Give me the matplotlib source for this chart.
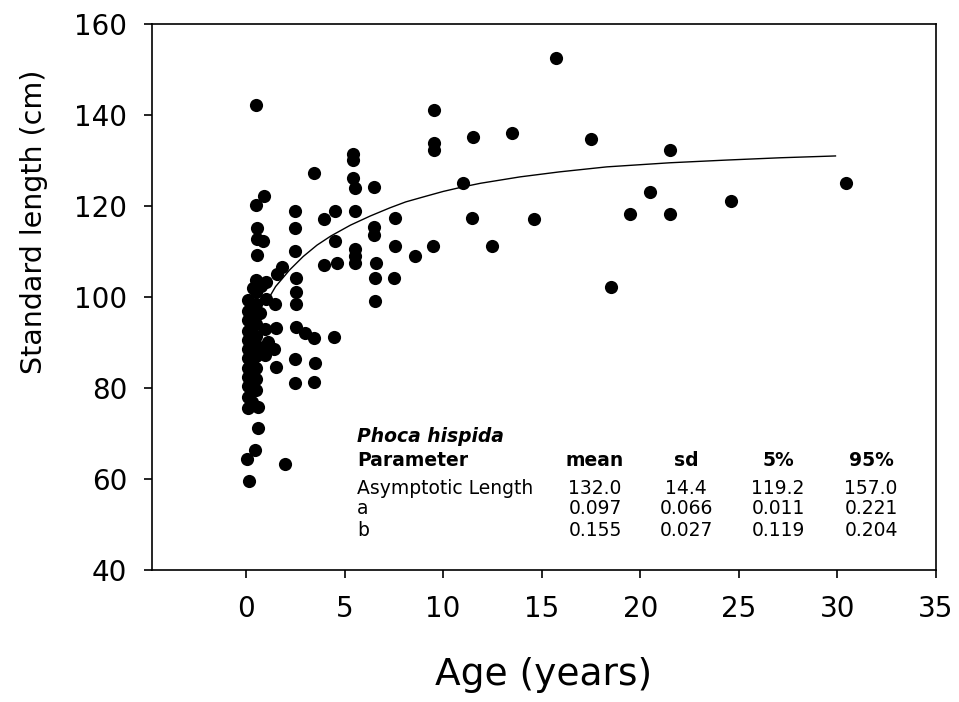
import matplotlib
matplotlib.use("Agg")
import matplotlib.pyplot as plt

# ---- data ----
age = [0.1, 0.05, 0.15, 0.1, 0.1, 0.1, 0.1, 0.1, 0.1, 0.1, 0.1, 0.1, 0.1, 0.1,
       0.3, 0.3, 0.3, 0.3, 0.3, 0.3, 0.35,
       0.5, 0.5, 0.55, 0.55, 0.55, 0.5, 0.5, 0.5, 0.5, 0.5, 0.5, 0.5, 0.5, 0.5, 0.5, 0.5, 0.6, 0.6, 0.45,
       0.9, 0.85, 0.75, 1.0, 1.0, 0.95, 1.1, 0.95, 0.85, 0.7,
       1.55, 1.8, 1.45, 1.5, 1.4, 1.5,
       2.0,
       2.5, 2.5, 2.5, 2.55, 2.55, 2.55, 2.55, 2.5, 2.5,
       3.0,
       3.45, 3.45, 3.5, 3.45,
       3.95, 3.95,
       4.5, 4.5, 4.6, 4.45,
       5.45, 5.45, 5.45, 5.55, 5.55, 5.55, 5.55, 5.55,
       6.5, 6.5, 6.5, 6.6, 6.55, 6.55,
       7.55, 7.55, 7.5,
       8.55,
       9.55, 9.55, 9.55, 9.5,
       11.0, 11.5, 11.45, 12.5, 13.5, 14.6, 15.7, 17.5, 18.5, 19.5, 20.5, 21.5, 21.5, 24.6, 30.45]
length = [99.3, 64.4, 59.6, 75.5, 78.0, 80.5, 82.5, 84.5, 86.5, 88.5, 90.5, 92.5, 95.0, 97.0,
          77.0, 81.5, 85.5, 89.5, 93.5, 97.5, 102.0,
          142.3, 120.3, 115.2, 112.8, 109.2, 103.7, 101.0, 98.5, 96.0, 94.0, 91.5, 89.5, 87.0, 84.5, 82.0, 79.5, 75.8, 71.3, 66.4,
          122.3, 112.2, 102.5, 103.3, 99.6, 93.0, 90.1, 87.2, 88.4, 96.5,
          105.0, 106.7, 98.5, 93.2, 88.6, 84.6,
          63.2,
          118.8, 115.1, 110.2, 104.2, 101.2, 98.5, 93.5, 86.3, 81.2,
          92.0,
          127.3, 90.9, 85.4, 81.4,
          117.2, 107.1,
          119.0, 112.4, 107.4, 91.3,
          131.5, 130.1, 126.2, 124.0, 119.0, 110.5, 109.0, 107.4,
          124.1, 115.4, 113.6, 107.4, 104.2, 99.1,
          117.4, 111.2, 104.2,
          109.0,
          141.1, 133.8, 132.3, 111.2,
          125.1, 135.1, 117.3, 111.2, 136.1, 117.2, 152.6, 134.7, 102.3, 118.2, 123.1, 132.2, 118.2, 121.2, 125.1]

# fitted growth curve
curve_age = [1.0, 1.5, 2.2, 2.9, 3.6, 4.3, 5.3, 6.3, 7.3, 8.1, 9.0, 10.0, 11.0, 11.9,
             13.9, 15.9, 18.3, 21.5, 24.4, 27.1, 29.9]
curve_len = [98.6, 102.3, 105.9, 108.9, 111.4, 113.4, 115.8, 117.8, 119.6, 120.9, 122.0,
             123.2, 124.2, 125.0, 126.4, 127.5, 128.6, 129.5, 130.1, 130.6, 131.0]

xticks = [0, 5, 10, 15, 20, 25, 30, 35]
yticks = [40, 60, 80, 100, 120, 140, 160]

species = "Phoca hispida"
col_headers = ["Parameter", "mean", "sd", "5%", "95%"]
row_names = ["Asymptotic Length", "a", "b"]
row_values = [["132.0", "14.4", "119.2", "157.0"],
              ["0.097", "0.066", "0.011", "0.221"],
              ["0.155", "0.027", "0.119", "0.204"]]

# ---- figure ----
W, H = 959, 702
fig = plt.figure(figsize=(W / 100, H / 100), dpi=100)
ax = fig.add_axes([152 / W, 1 - 570 / H, (936 - 152) / W, (570 - 24) / H])

ax.scatter(age, length, s=90, c="black", marker="o", linewidths=0, zorder=3)
ax.plot(curve_age, curve_len, color="black", lw=1.0, zorder=2)

ax.set_xlim(-4.77, 35)
ax.set_ylim(40, 160)
ax.set_xticks(xticks)
ax.set_yticks(yticks)
for s in ax.spines.values():
    s.set_linewidth(1.2)
ax.tick_params(direction="out", length=6, width=1.2, colors="black")
ax.tick_params(axis="y", pad=12, labelsize=20)
ax.tick_params(axis="x", pad=12, labelsize=20)

fig.text(34 / W, 1 - 222 / H, "Standard length (cm)", rotation=90,
         ha="center", va="center", fontsize=20.5)
fig.text(544 / W, 1 - 675 / H, "Age (years)", ha="center", va="center", fontsize=27)

# parameter table
fs = 13.5
def px(x, y):
    return x / W, 1 - y / H

fig.text(*px(357, 437), species, ha="left", va="center", fontsize=fs,
         style="italic", fontweight="bold")
fig.text(*px(357, 461), col_headers[0], ha="left", va="center", fontsize=fs, fontweight="bold")
col_x = [595, 686, 778, 871]
for cx, h in zip(col_x, col_headers[1:]):
    fig.text(*px(cx, 461), h, ha="center", va="center", fontsize=fs, fontweight="bold")
row_y = [488, 509, 531]
for ry, name, vals in zip(row_y, row_names, row_values):
    fig.text(*px(357, ry), name, ha="left", va="center", fontsize=fs)
    for cx, v in zip(col_x, vals):
        fig.text(*px(cx, ry), v, ha="center", va="center", fontsize=fs)

fig.savefig("out.png", dpi=100)
